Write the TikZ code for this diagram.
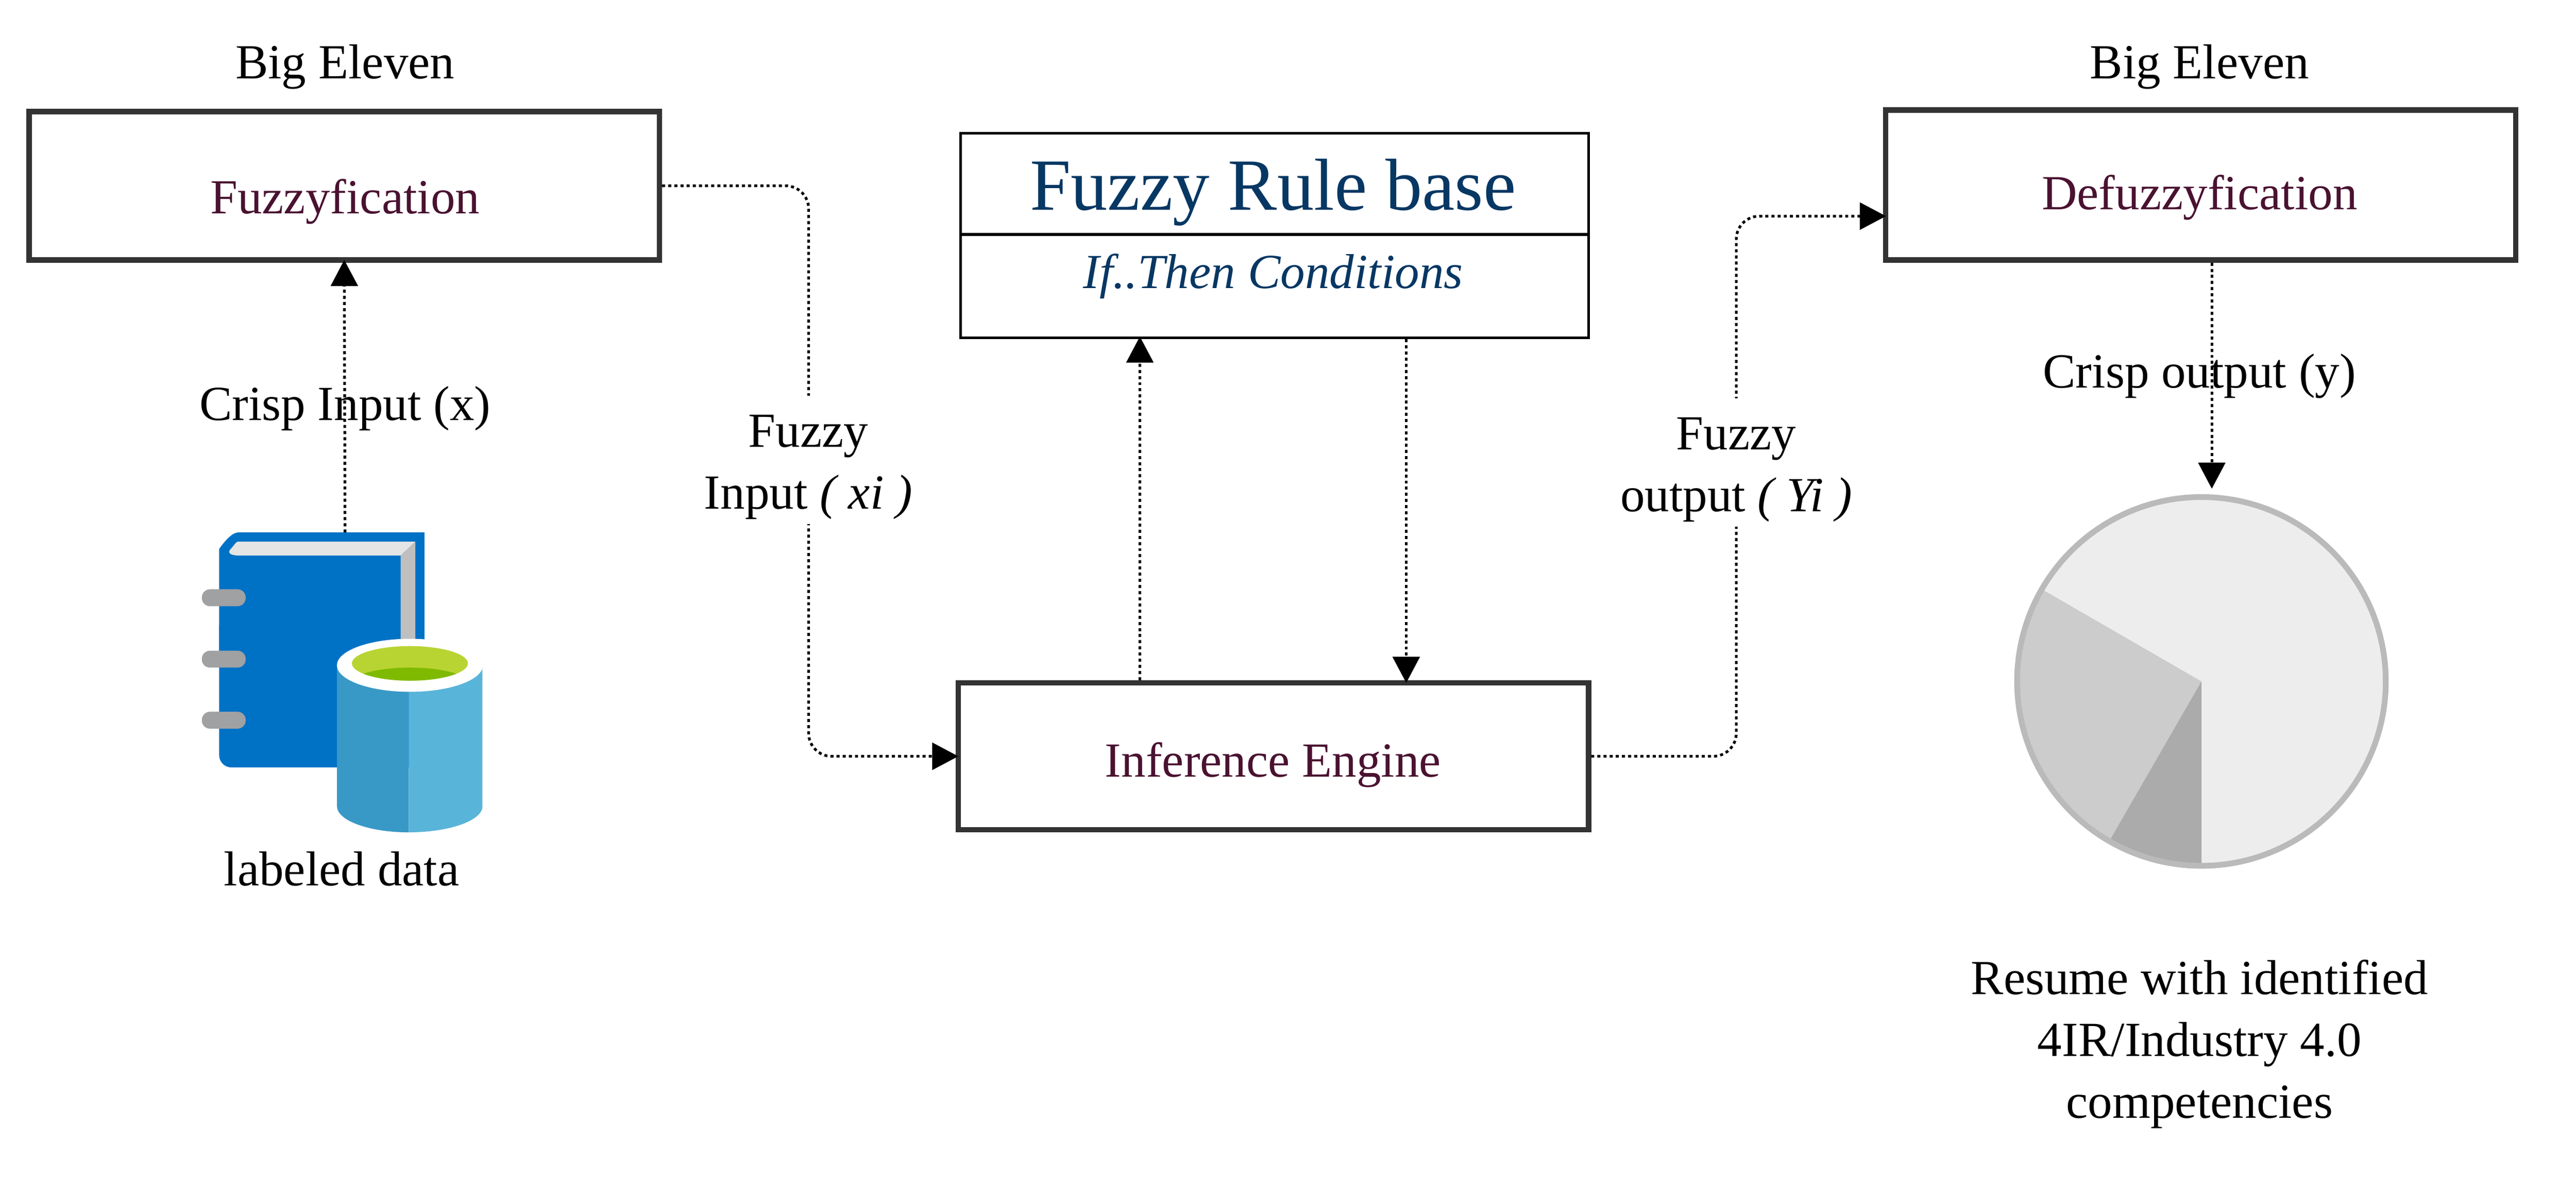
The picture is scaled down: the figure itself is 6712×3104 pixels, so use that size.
\documentclass[tikz,border=0pt]{standalone}
\usepackage{fontspec}
\setmainfont{Liberation Serif}
\usetikzlibrary{arrows.meta}
\definecolor{maroontxt}{HTML}{4A1230}
\definecolor{bluetxt}{HTML}{073763}
\definecolor{bookblue}{HTML}{0072C6}
\definecolor{ringgrey}{HTML}{A0A1A2}
\definecolor{canleft}{HTML}{3999C6}
\definecolor{canright}{HTML}{59B4D9}
\definecolor{canlight}{HTML}{B8D432}
\definecolor{candark}{HTML}{7FBA00}
\tikzset{
  heavybox/.style={draw=black!80,line width=0.14cm,minimum width=16.41cm},
  lightbox/.style={draw=black,line width=0.07cm,minimum width=16.36cm},
  txt/.style={anchor=base,inner sep=0pt,font=\fontsize{36.3}{45.8}\selectfont},
  flowlabel/.style={align=center,fill=white,inner xsep=0.1cm,inner ysep=0.12cm,font=\fontsize{36.3}{45.8}\selectfont},
  flow/.style={-{Triangle[length=0.68cm,width=0.7cm]},line width=0.07cm,dash pattern=on 0.08cm off 0.08cm,rounded corners=0.6cm,shorten >=-0.07cm},
}
\begin{document}
\begin{tikzpicture}[x=0.01cm,y=-0.01cm]
\useasboundingbox (0,0) rectangle (6712,3104);

\node[heavybox,minimum height=3.86cm] (fuzzify) at (897,484) {};
\node[heavybox,minimum height=3.9cm] (defuzzify) at (5734,482) {};
\node[heavybox,minimum height=3.82cm] (infer) at (3318,1970) {};
\node[lightbox,minimum height=2.64cm] (rulehead) at (3321,479) {};
\node[lightbox,minimum height=2.69cm] (rulebody) at (3321,745.5) {};

\node[txt] (bigleft) at (899,205) {Big Eleven};
\node[txt] (bigright) at (5731,205) {Big Eleven};
\node[txt,text=maroontxt] (fuzzifytxt) at (899,556) {Fuzzyfication};
\node[txt,text=maroontxt] (defuzzifytxt) at (5731,546) {Defuzzyfication};
\node[txt,text=maroontxt] (infertxt) at (3317,2024) {Inference Engine};
\node[txt,text=bluetxt,font=\fontsize{54.5}{60}\selectfont] (ruletxt) at (3317,547) {Fuzzy Rule base};
\node[txt,text=bluetxt,font=\fontsize{36.3}{45}\selectfont\itshape] (condtxt) at (3317,751) {If..Then Conditions};
\node[txt] (crispin) at (899,1095) {Crisp Input (x)};
\node[txt] (crispout) at (5731,1010) {Crisp output (y)};
\node[txt] (labeled) at (890,2307) {labeled data};
\node[align=center,inner sep=0pt,font=\fontsize{36.3}{45.8}\selectfont] (resume) at (5731,2720) {Resume with identified\\4IR/Industry 4.0\\competencies};

\fill[bookblue,rounded corners=0.32cm] (571,1999) -- (571,1600) -- (1106,1600) -- (1106,1999) -- cycle;
\fill[bookblue] (571,1700) -- (571,1430) .. controls (585,1410) and (605,1387) .. (620,1387) -- (1106,1387) -- (1106,1700) -- cycle;
\fill[black!10] (620,1411) -- (1082,1411) -- (1044,1447) -- (623,1447) .. controls (600,1447) and (590,1440) .. (603,1428) .. controls (612,1418) and (615,1411) .. (620,1411) -- cycle;
\fill[black!25] (1082,1411) -- (1082,1680) -- (1044,1680) -- (1044,1447) -- cycle;
\foreach \ringy in {1557,1717,1876}
  \fill[ringgrey,rounded corners=0.21cm] (526,\ringy-22) rectangle (640,\ringy+22);

\fill[canleft] (878,1733) -- (878,2100) arc[start angle=180,end angle=270,x radius=1.87cm,y radius=0.68cm] -- (1065,1733) -- cycle;
\fill[canright] (1065,1733) -- (1065,2168) arc[start angle=270,end angle=360,x radius=1.92cm,y radius=0.68cm] -- (1257,1733) -- cycle;
\fill[white] (1068,1733) ellipse[x radius=1.9cm,y radius=0.69cm];
\fill[canlight] (1068,1728) ellipse[x radius=1.51cm,y radius=0.45cm];
\begin{scope}
\clip (1068,1728) ellipse[x radius=1.51cm,y radius=0.45cm];
\fill[candark] (1068,1785) ellipse[x radius=1.6cm,y radius=0.46cm];
\end{scope}

\coordinate (piemid) at (5736,1775);
\fill[black!7] (piemid) circle[radius=4.8cm];
\fill[black!20] (piemid) -- ++(150:4.8cm) arc[start angle=150,end angle=240,radius=4.8cm] -- cycle;
\fill[black!33] (piemid) -- ++(240:4.8cm) arc[start angle=240,end angle=270,radius=4.8cm] -- cycle;
\draw[black!27,line width=0.15cm] (piemid) circle[radius=4.8cm];

\coordinate (booktop) at (899,1387);
\coordinate (pietop) at (5763,1266);
\coordinate (defuzzyin) at (4907,563);
\coordinate (leftbend) at (2107,1200);
\coordinate (rightbend) at (4524,1200);
\coordinate (upline) at (2970,1300);
\coordinate (downline) at (3664,1300);

\draw[flow] (booktop) -- (fuzzify.south);
\draw[flow] (fuzzify.east) -| (leftbend) |- (infer.west);
\draw[flow] (infer.east) -| (rightbend) |- (defuzzyin);
\draw[flow] (upline |- infer.north) -- (upline |- rulebody.south);
\draw[flow] (downline |- rulebody.south) -- (downline |- infer.north);
\draw[flow] (pietop |- defuzzify.south) -- (pietop);

\node[flowlabel] (fuzzyin) at (2106,1198) {\rule{0pt}{1.21cm}Fuzzy\\Input \textit{( xi )}};
\node[flowlabel] (fuzzyout) at (4524,1205) {\rule{0pt}{1.21cm}Fuzzy\\output \textit{( Yi )}};
\end{tikzpicture}
\end{document}
